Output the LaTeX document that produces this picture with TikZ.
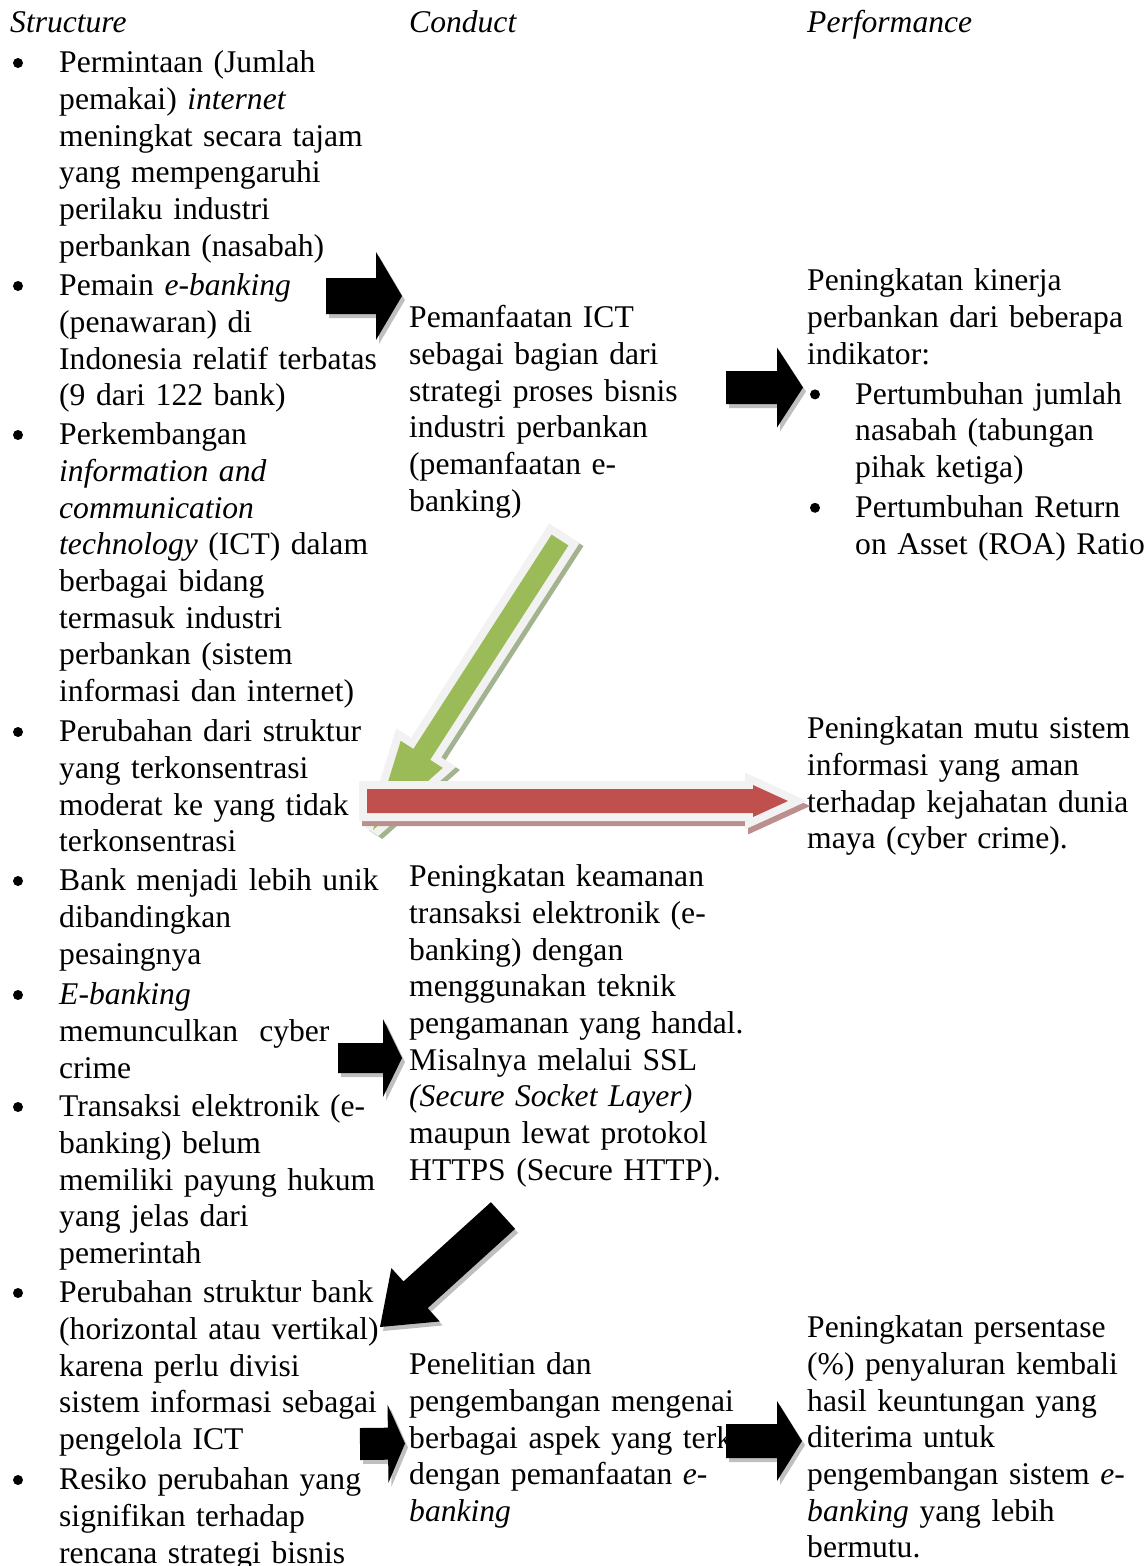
\documentclass[tikz,border=0pt]{standalone}
\usepackage{fontspec}
\setmainfont{Liberation Serif}
\usetikzlibrary{calc}
\definecolor{agreen}{HTML}{9BBB59}
\definecolor{ared}{HTML}{C0504D}
\definecolor{aborder}{HTML}{F2F2F2}
\definecolor{gshadow}{HTML}{A3B38F}
\definecolor{rshadow}{HTML}{BA8F8D}
\definecolor{kshadow}{HTML}{BFBFBF}
\tikzset{
  txt/.style={anchor=north west, inner sep=0pt, text width=430pt, align=left,
              font=\fontsize{31.6}{36.7}\selectfont},
  bul/.style={fill=black},
  blackfill/.style={fill=black},
  blackshadow/.style={fill=kshadow},
  bordered/.style={draw=aborder, fill=aborder, line width=16pt, miter limit=2},
}
% #1 style, #2 tail, #3 tip, #4 shaft half width, #5 head half width, #6 head length, #7 offset
\newcommand\blkarrow[7]{%
  \coordinate (bat) at ($(#2)+#7$);
  \coordinate (bap) at ($(#3)+#7$);
  \coordinate (bah) at ($(bap)!#6!(bat)$);
  \path[#1] ($(bat)!#4!90:(bap)$) -- ($(bah)!#4!90:(bap)$) -- ($(bah)!#5!90:(bap)$)
     -- (bap) -- ($(bah)!#5!-90:(bap)$) -- ($(bah)!#4!-90:(bap)$)
     -- ($(bat)!#4!-90:(bap)$) -- cycle;}
\newcommand\txtnode[4]{\node[txt] (#1) at (#2,#3-25.69) {\strut #4};}
\newcommand\bulletdot[2]{\fill[bul] (#1,#2-9.5) circle[radius=5pt];}
\begin{document}
\begin{tikzpicture}[x=1pt,y=-1pt]
\useasboundingbox (0,0) rectangle (1145,1566);
% headings
\txtnode{h1}{10}{32}{\textit{Structure}}
\txtnode{h2}{409}{32}{\textit{Conduct}}
\txtnode{h3}{807}{32}{\textit{Performance}}
% column 1
\bulletdot{18}{72.5}
\txtnode{s1}{59}{72.5}{Permintaan (Jumlah\\ pemakai) \textit{internet}\\ meningkat secara tajam\\ yang mempengaruhi\\ perilaku industri\\ perbankan (nasabah)}
\bulletdot{18}{295.5}
\txtnode{s2}{59}{295.5}{Pemain \textit{e-banking}\\ (penawaran) di\\ Indonesia relatif terbatas\\ (9 dari 122 bank)}
\bulletdot{18}{444.5}
\txtnode{s3}{59}{444.5}{Perkembangan\\ \textit{information and}\\ \textit{communication}\\ \textit{technology} (ICT) dalam\\ berbagai bidang\\ termasuk industri\\ perbankan (sistem\\ informasi dan internet)}
\bulletdot{18}{741.5}
\txtnode{s4}{59}{741.5}{Perubahan dari struktur\\ yang terkonsentrasi\\ moderat ke yang tidak\\ terkonsentrasi}
\bulletdot{18}{890.5}
\txtnode{s5}{59}{890.5}{Bank menjadi lebih unik\\ dibandingkan\\ pesaingnya}
\bulletdot{18}{1004.5}
\txtnode{s6}{59}{1004.5}{\textit{E-banking}\\ memunculkan\ \ cyber\\ crime}
\bulletdot{18}{1116.5}
\txtnode{s7}{59}{1116.5}{Transaksi elektronik (e-\\ banking) belum\\ memiliki payung hukum\\ yang jelas dari\\ pemerintah}
\bulletdot{18}{1302.5}
\txtnode{s8}{59}{1302.5}{Perubahan struktur bank\\ (horizontal atau vertikal)\\ karena perlu divisi\\ sistem informasi sebagai\\ pengelola ICT}
\bulletdot{18}{1489.5}
\txtnode{s9}{59}{1489.5}{Resiko perubahan yang\\ signifikan terhadap\\ rencana strategi bisnis}
% column 2
\txtnode{c1}{409}{327.5}{Pemanfaatan ICT\\ sebagai bagian dari\\ strategi proses bisnis\\ industri perbankan\\ (pemanfaatan e-\\ banking)}
\txtnode{c2}{409}{886.5}{Peningkatan keamanan\\ transaksi elektronik (e-\\ banking) dengan\\ menggunakan teknik\\ pengamanan yang handal.\\ Misalnya melalui SSL\\ \textit{(Secure Socket Layer)}\\ maupun lewat protokol\\ HTTPS (Secure HTTP).}
\txtnode{c3}{409}{1374.5}{Penelitian dan\\ pengembangan mengenai\\ berbagai aspek yang terkait\\ dengan pemanfaatan \textit{e-}\\ \textit{banking}}
% column 3
\txtnode{p1}{807}{290.5}{Peningkatan kinerja\\ perbankan dari beberapa\\ indikator:}
\bulletdot{815}{403.9}
\txtnode{p1a}{855}{403.9}{Pertumbuhan jumlah\\ nasabah (tabungan\\ pihak ketiga)}
\bulletdot{815}{517.3}
\txtnode{p1b}{855}{517.3}{Pertumbuhan Return\\ on Asset (ROA) Ratio}
\txtnode{p2}{807}{738.5}{Peningkatan mutu sistem\\ informasi yang aman\\ terhadap kejahatan dunia\\ maya (cyber crime).}
\txtnode{p3}{807}{1337.5}{Peningkatan persentase\\ (\%) penyaluran kembali\\ hasil keuntungan yang\\ diterima untuk\\ pengembangan sistem \textit{e-}\\ \textit{banking} yang lebih\\ bermutu.}
% arrow anchor coordinates
\coordinate (a1t) at (326,296);   \coordinate (a1p) at (402,296);
\coordinate (a2t) at (726,387.5); \coordinate (a2p) at (803,387.5);
\coordinate (a5t) at (338,1058);  \coordinate (a5p) at (402,1058);
\coordinate (a6t) at (503,1215.5);\coordinate (a6p) at (380,1327);
\coordinate (a7t) at (360,1444);  \coordinate (a7p) at (405,1443.5);
\coordinate (a8t) at (726,1441);  \coordinate (a8p) at (802,1441);
\coordinate (gt) at (560,540);    \coordinate (gp) at (373,830);
\coordinate (rt) at (367,801);    \coordinate (rp) at (788,801);
% black arrows
\foreach \t/\p/\s/\h/\l in {a1t/a1p/18pt/44pt/26pt, a2t/a2p/16.5pt/40pt/26pt,
    a5t/a5p/15pt/39pt/19pt, a6t/a6p/18pt/36pt/48pt, a7t/a7p/16pt/39pt/17pt,
    a8t/a8p/17pt/40pt/25pt}{
  \blkarrow{blackshadow}{\t}{\p}{\s}{\h}{\l}{(3,4)}
  \blkarrow{blackfill}{\t}{\p}{\s}{\h}{\l}{(0,0)}
}
% green arrow
\blkarrow{draw=gshadow, fill=gshadow, line width=16pt, miter limit=2}{gt}{gp}{10pt}{25pt}{90pt}{(4,3)}
\blkarrow{bordered}{gt}{gp}{10pt}{25pt}{90pt}{(0,0)}
\blkarrow{fill=agreen}{gt}{gp}{10pt}{25pt}{90pt}{(0,0)}
% red arrow
\blkarrow{draw=rshadow, fill=rshadow, line width=16pt}{rt}{rp}{12pt}{16pt}{35pt}{(3,5)}
\blkarrow{bordered, miter limit=10}{rt}{rp}{12pt}{16pt}{35pt}{(0,0)}
\blkarrow{fill=ared}{rt}{rp}{12pt}{16pt}{35pt}{(0,0)}
\end{tikzpicture}
\end{document}
